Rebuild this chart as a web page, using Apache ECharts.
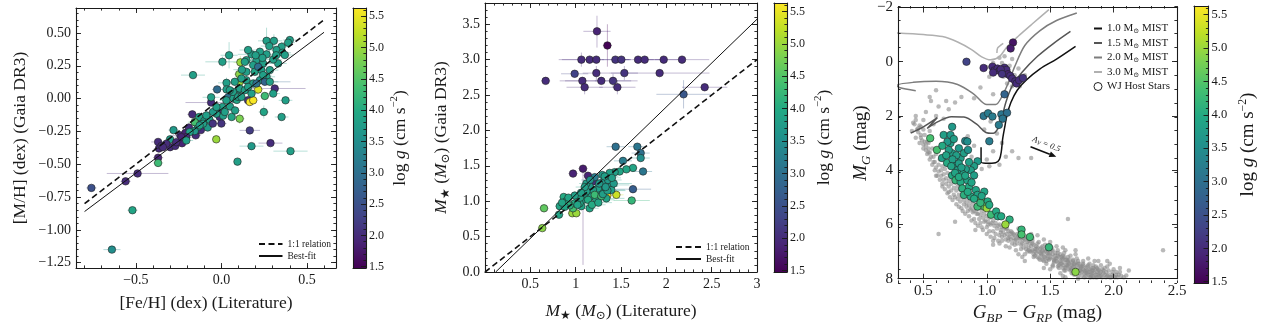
<!DOCTYPE html>
<html>
<head>
<meta charset="utf-8">
<script src="https://cdn.jsdelivr.net/npm/echarts@6/dist/echarts.min.js"></script>
<style>
  html, body { margin: 0; padding: 0; background: #ffffff; }
  #chart { width: 1268px; height: 330px; }
</style>
</head>
<body>
<div id="chart"></div>
<script>
// ---------------- data ----------------
// log g colour scale shared by the three colour bars
const loggRange = [1.48, 5.63];
const loggTicks = [1.5, 2.0, 2.5, 3.0, 3.5, 4.0, 4.5, 5.0, 5.5];

// Panel 1: [Fe/H] literature, [M/H] Gaia DR3, log g, err [Fe/H], err [M/H]
const metallicityStars = [
  [-0.76,-0.68,2.5,0.03,0.02],[-0.64,-1.15,3.5,0.05,0.01],[-0.52,-0.85,3.9,0.03,0.01],
  [-0.56,-0.63,2.0,0.03,0.02],[-0.49,-0.57,2.0,0.18,0.02],[-0.37,-0.33,2.0,0.04,0.02],
  [-0.365,-0.38,2.0,0.03,0.02],[-0.37,-0.45,1.9,0.03,0.02],[-0.37,-0.49,4.3,0.03,0.02],
  [-0.35,-0.36,2.0,0.03,0.02],[-0.30,-0.37,2.0,0.04,0.02],[-0.28,-0.24,3.7,0.03,0.02],
  [-0.30,-0.31,3.8,0.03,0.02],[-0.27,-0.36,2.0,0.03,0.02],[-0.24,-0.28,2.0,0.05,0.02],
  [-0.23,-0.34,1.9,0.03,0.02],[-0.21,-0.26,1.9,0.03,0.02],[-0.19,-0.22,2.0,0.03,0.02],
  [-0.17,-0.12,2.0,0.03,0.02],[-0.15,-0.28,2.0,0.03,0.02],[-0.15,-0.18,2.1,0.03,0.02],
  [-0.13,-0.14,3.9,0.03,0.02],[-0.12,-0.24,2.0,0.03,0.02],[-0.10,-0.17,3.8,0.04,0.02],
  [-0.07,-0.16,3.8,0.03,0.02],[-0.08,-0.22,3.7,0.03,0.02],[-0.05,-0.19,2.1,0.03,0.02],
  [-0.03,-0.31,5.0,0.02,0.02],[-0.06,-0.03,2.0,0.15,0.02],[-0.06,0.01,3.8,0.05,0.02],
  [-0.025,0.07,2.9,0.03,0.02],[-0.02,-0.09,2.1,0.05,0.02],[-0.01,-0.14,2.0,0.03,0.02],
  [0.0,-0.19,2.1,0.03,0.02],[0.01,-0.13,3.8,0.03,0.02],[0.03,0.12,3.8,0.05,0.04],
  [0.03,0.07,3.8,0.03,0.02],[0.04,0.01,3.0,0.03,0.02],[0.05,-0.06,3.8,0.03,0.02],
  [0.06,-0.14,3.9,0.03,0.02],[0.07,0.0,3.8,0.03,0.02],[0.08,-0.09,3.8,0.03,0.02],
  [0.09,-0.01,3.9,0.03,0.02],[0.10,0.07,3.8,0.03,0.02],[0.107,0.128,5.0,0.03,0.02],
  [0.104,0.186,4.9,0.03,0.02],[0.111,0.276,5.0,0.04,0.05],[0.107,-0.153,4.8,0.03,0.04],
  [0.156,-0.013,2.1,0.03,0.02],[0.166,-0.026,5.6,0.03,0.02],[0.186,-0.013,5.6,0.03,0.02],
  [0.215,0.069,5.4,0.03,0.02],[0.166,-0.242,2.2,0.06,0.02],[0.176,-0.362,3.7,0.07,0.02],
  [0.094,-0.48,3.8,0.02,0.02],[0.287,-0.339,2.0,0.07,0.02],[0.404,-0.40,3.8,0.10,0.02],
  [0.352,-0.14,3.8,0.04,0.02],[0.375,-0.013,3.8,0.04,0.02],[0.312,0.077,2.0,0.18,0.02],
  [0.303,0.038,3.8,0.04,0.02],[0.254,0.02,4.3,0.03,0.02],[0.248,-0.102,3.9,0.03,0.05],
  [0.045,0.33,3.8,0.05,0.10],[-0.166,0.179,3.8,0.07,0.02],[0.006,0.28,3.8,0.10,0.04],
  [0.264,0.44,3.8,0.05,0.10],[0.307,0.44,3.8,0.05,0.05],[0.40,0.446,3.8,0.04,0.03],
  [0.39,0.426,3.8,0.04,0.03],[0.352,0.395,3.8,0.05,0.03],[0.322,0.37,3.8,0.05,0.03],
  [0.357,0.349,3.8,0.05,0.03],[0.371,0.332,3.8,0.05,0.03],[0.332,0.268,3.8,0.05,0.03],
  [0.303,0.298,3.8,0.05,0.03],[0.264,0.337,3.8,0.05,0.03],[0.225,0.357,3.8,0.05,0.03],
  [0.176,0.337,3.8,0.08,0.05],[0.146,0.293,3.9,0.05,0.03],[0.205,0.293,3.8,0.05,0.03],
  [0.244,0.268,3.8,0.05,0.03],[0.186,0.255,3.8,0.05,0.03],[0.146,0.204,3.8,0.05,0.03],
  [0.195,0.204,3.9,0.05,0.03],[0.234,0.217,3.8,0.05,0.03],[0.283,0.217,3.8,0.05,0.03],
  [0.264,0.166,3.8,0.05,0.03],[0.225,0.14,3.7,0.05,0.03],[0.186,0.115,3.8,0.05,0.03],
  [0.146,0.14,3.8,0.05,0.03],[0.107,0.077,3.8,0.04,0.03],[0.137,0.064,3.8,0.04,0.03],
  [0.176,0.038,3.8,0.04,0.03],[0.205,0.115,3.0,0.10,0.03],[0.254,0.128,2.8,0.15,0.03],
  [0.244,0.179,3.8,0.05,0.03],[0.215,0.242,3.0,0.05,0.03],[0.283,0.128,3.8,0.05,0.03],
  [0.156,0.37,3.8,0.05,0.03],[0.137,0.28,3.8,0.05,0.03],[0.068,0.051,3.8,0.04,0.03],
  [0.098,0.013,3.8,0.04,0.03],[0.029,-0.013,3.8,0.04,0.03],[0.006,-0.064,3.8,0.04,0.03],
  [-0.029,-0.115,3.8,0.04,0.03],[-0.049,-0.102,3.7,0.04,0.03],[-0.088,-0.128,3.8,0.04,0.03],
  [-0.107,-0.191,3.8,0.04,0.03],[-0.137,-0.217,3.8,0.04,0.03],[-0.156,-0.247,3.7,0.04,0.03],
  [-0.186,-0.255,3.8,0.04,0.03],[-0.205,-0.293,2.0,0.04,0.03],[-0.234,-0.293,1.9,0.04,0.03],
  [-0.264,-0.332,2.0,0.04,0.03],[-0.322,-0.344,2.0,0.04,0.03],[-0.342,-0.37,2.0,0.04,0.03],
  [-0.205,-0.319,3.8,0.04,0.03],[-0.156,-0.179,4.4,0.04,0.03],[-0.127,-0.204,3.8,0.04,0.03],
  [-0.029,-0.064,3.8,0.04,0.03],[0.02,-0.102,3.8,0.04,0.03],[0.049,0.064,3.8,0.04,0.03],
  [0.117,0.013,3.8,0.04,0.03],[0.156,0.089,3.8,0.04,0.03],[0.117,0.153,3.8,0.04,0.03],
  [0.078,0.128,3.8,0.04,0.03],[0.32,0.33,3.8,0.05,0.03],[0.28,0.40,3.8,0.05,0.05],
  [0.24,0.31,3.8,0.05,0.03],[0.20,0.33,3.8,0.05,0.03],[0.12,0.22,3.8,0.05,0.03]
];
const metallicityOneToOne = [-0.8, 0.6];
const metallicityFit = { slope: 0.975, intercept: -0.08, from: -0.8, to: 0.6 };

// Panel 2: mass literature, mass Gaia DR3, log g, err lit, err Gaia (low), err Gaia (high)
const massStars = [
  [1.235,3.40,1.9,0.15,0.23,0.22],[1.35,3.20,1.5,0.05,0.30,0.30],[1.063,3.00,2.0,0.25,0.10,0.10],
  [1.154,3.00,2.0,0.10,0.05,0.05],[1.228,3.00,2.0,0.38,0.05,0.05],[1.438,3.00,2.1,0.15,0.05,0.05],
  [1.504,3.00,2.1,0.10,0.05,0.05],[1.688,3.00,2.0,0.30,0.05,0.05],[1.761,3.00,2.0,0.10,0.05,0.05],
  [1.971,3.00,2.0,0.20,0.05,0.05],[2.173,3.00,2.0,0.30,0.05,0.05],[0.989,2.80,2.3,0.15,0.05,0.05],
  [1.074,2.70,2.0,0.25,0.05,0.05],[1.228,2.81,2.0,0.15,0.10,0.10],[1.283,2.70,2.0,0.40,0.05,0.05],
  [1.412,2.70,2.1,0.20,0.10,0.10],[1.537,2.81,2.1,0.15,0.10,0.10],[1.926,2.81,2.0,0.55,0.05,0.05],
  [1.099,2.61,2.0,0.20,0.10,0.10],[1.460,2.61,2.0,0.20,0.10,0.10],[0.669,2.70,2.0,0.05,0.03,0.03],
  [2.423,2.61,2.0,0.25,0.05,0.05],[2.190,2.51,2.6,0.30,0.20,0.20],
  [0.632,0.62,4.9,0.05,0.03,0.03],[0.651,0.90,4.6,0.05,0.05,0.05],[0.824,0.93,3.9,0.05,0.05,0.05],
  [0.816,0.81,3.9,0.05,0.05,0.05],[0.868,1.06,4.0,0.05,0.05,0.05],[0.897,1.00,4.0,0.05,0.05,0.05],
  [0.971,1.39,1.9,0.05,0.05,0.05],[1.081,1.46,1.8,0.05,1.36,0.05],[1.136,1.36,1.9,0.05,0.05,0.05],
  [1.191,1.28,2.0,0.05,0.05,0.05],[1.210,1.34,3.2,0.05,0.05,0.05],[1.441,1.77,3.0,0.10,0.05,0.05],
  [1.680,1.77,3.1,0.10,0.05,0.05],[1.717,1.68,3.0,0.10,0.05,0.05],[1.717,1.61,3.5,0.10,0.05,0.05],
  [1.743,1.42,3.1,0.10,0.05,0.05],[1.632,1.17,2.7,0.20,0.05,0.05],[1.618,1.01,4.2,0.20,0.05,0.05],
  [1.522,1.57,3.2,0.10,0.05,0.05],[1.632,1.47,3.9,0.05,0.05,0.05],[1.559,1.45,3.9,0.05,0.05,0.05],
  [1.485,1.42,3.9,0.05,0.05,0.05],[1.430,1.41,3.8,0.05,0.05,0.05],[1.375,1.40,3.8,0.05,0.05,0.05],
  [1.294,1.37,3.7,0.05,0.05,0.05],[1.449,1.09,5.3,0.08,0.03,0.03],[1.349,1.08,5.6,0.08,0.03,0.03],
  [0.963,0.83,5.0,0.05,0.03,0.03],[1.007,0.83,5.0,0.05,0.03,0.03],[0.971,0.90,4.4,0.05,0.03,0.03],
  [1.063,0.93,3.9,0.15,0.05,0.05],[1.154,0.90,3.9,0.10,0.05,0.05],[1.081,1.02,3.8,0.10,0.05,0.05],
  [1.173,1.07,3.8,0.15,0.05,0.05],[1.228,1.02,3.9,0.20,0.05,0.05],[1.265,1.14,3.8,0.20,0.05,0.05],
  [1.320,1.21,3.8,0.15,0.05,0.05],[1.393,1.23,3.7,0.20,0.05,0.05],[1.338,1.04,3.9,0.20,0.05,0.05],
  [1.246,1.18,3.8,0.10,0.05,0.05],[1.191,1.16,3.8,0.10,0.05,0.05],[1.136,1.02,4.0,0.10,0.05,0.05],
  [1.044,0.97,3.9,0.10,0.05,0.05],[0.989,0.97,4.0,0.10,0.05,0.05],[0.934,0.94,4.1,0.08,0.05,0.05],
  [1.210,1.09,4.3,0.10,0.05,0.05],[1.283,1.07,4.3,0.10,0.05,0.05],[1.154,1.21,3.7,0.10,0.05,0.05],
  [1.099,1.11,3.8,0.10,0.05,0.05],[1.118,1.25,3.8,0.08,0.05,0.05],[1.118,1.14,3.8,0.08,0.05,0.05],
  [1.294,1.26,3.7,0.15,0.05,0.05],[1.357,1.30,3.7,0.15,0.05,0.05],[1.320,1.35,3.8,0.15,0.05,0.05],
  [1.393,1.16,3.8,0.15,0.05,0.05],[1.050,1.05,3.9,0.05,0.05,0.05],[0.990,1.08,3.8,0.05,0.05,0.05],
  [1.020,0.95,3.9,0.05,0.05,0.05],[1.180,0.95,4.0,0.15,0.05,0.05],[1.250,0.98,3.9,0.15,0.05,0.05],
  [1.300,1.10,3.8,0.15,0.05,0.05],[1.350,1.15,3.8,0.20,0.05,0.05],[1.420,1.25,3.7,0.20,0.05,0.05],
  [1.400,1.33,3.8,0.10,0.05,0.05],[1.330,1.20,3.7,0.10,0.05,0.05],[1.260,1.25,3.7,0.10,0.05,0.05],
  [1.160,1.30,3.6,0.10,0.05,0.05],[1.100,1.20,3.8,0.10,0.05,0.05],[1.060,1.12,3.8,0.10,0.05,0.05],
  [0.880,0.92,3.9,0.05,0.05,0.05],[0.920,1.05,3.9,0.05,0.05,0.05],[0.850,0.98,3.9,0.05,0.05,0.05]
];
const massOneToOne = [0, 3];
const massFit = { slope: 1.239, intercept: -0.146, from: 0.118, to: 3.0 };

// Panel 3: Gaia CMD background field stars [BP-RP, M_G]
const fieldStars = [
  [0.44,2.0],[0.47,2.35],[0.50,2.15],[0.52,1.85],[0.55,2.55],[0.58,2.3],[0.62,1.65],[0.60,1.05],
  [0.66,2.1],[0.70,1.75],[0.48,2.7],[0.45,2.5],[0.53,2.95],[0.42,2.25],[0.56,1.45],[0.75,1.5],
  [0.90,1.35],[0.95,0.95],[1.02,0.55],[1.08,0.25],[1.12,0.05],[1.15,0.35],[1.18,0.15],[1.20,-0.1],
  [1.22,0.5],[1.16,0.8],[1.05,1.2],[1.13,0.55],[1.10,-0.15],[1.25,0.25],[0.98,2.5],[1.03,2.2],
  [1.08,2.65],[1.12,3.0],[1.05,3.3],[1.00,3.6],[1.15,3.5],[1.20,3.3],[1.25,3.55],[1.35,3.55],
  [0.96,3.95],[1.02,3.85],[0.85,2.75],[0.90,3.1],[0.88,3.5],[1.10,3.8],
  [0.55,1.3],[0.60,2.0],[0.68,1.45],[0.80,1.3],[1.00,0.2],[1.05,0.05],[1.14,-0.2],[1.20,0.9],
  [1.26,0.9],[1.30,0.5],
  [0.46,2.6],[0.49,2.9],[0.51,2.7],[0.52,3.1],[0.54,3.0],[0.55,3.35],[0.57,3.2],[0.58,3.5],
  [0.59,3.7],[0.60,3.4],[0.62,3.8],[0.63,3.6],[0.64,4.0],[0.65,3.85],[0.66,4.15],[0.67,3.95],
  [0.68,4.3],[0.69,4.1],[0.70,4.4],[0.71,4.2],[0.72,4.5],[0.73,4.35],[0.74,4.65],[0.75,4.45],
  [0.76,4.75],[0.77,4.6],[0.78,4.9],[0.79,4.7],[0.80,5.0],[0.81,4.85],[0.82,5.1],[0.83,4.95],
  [0.84,5.2],[0.85,5.05],[0.86,5.3],[0.87,5.15],[0.88,5.4],[0.89,5.25],[0.90,5.5],[0.91,5.35],
  [0.92,5.45],[0.93,5.6],[0.94,5.4],[0.95,5.65],[0.96,5.5],[0.97,5.75],[0.98,5.6],[0.99,5.85],
  [1.00,5.7],[1.01,5.9],[1.02,5.75],[1.03,6.0],[1.05,5.85],[1.06,6.05],[1.07,5.95],[1.08,6.15],
  [1.10,6.0],[1.11,6.2],[1.12,6.1],[1.13,6.3],[1.15,6.15],[1.16,6.35],[1.17,6.25],[1.18,6.45],
  [1.20,6.3],[1.21,6.5],[1.22,6.4],[1.23,6.55],[1.25,6.45],[1.26,6.6],[1.27,6.5],[1.28,6.7],
  [1.30,6.55],[1.31,6.75],[1.32,6.65],[1.33,6.85],[1.34,6.7],[1.35,6.8],[1.36,6.95],[1.37,6.75],
  [1.38,6.9],[1.39,7.05],[1.40,6.85],[1.41,7.0],[1.42,6.9],[1.43,7.1],[1.44,6.95],[1.45,7.05],
  [1.46,7.2],[1.47,7.0],[1.48,7.15],[1.49,7.3],[1.50,7.05],[1.51,7.2],[1.52,7.1],[1.53,7.3],
  [1.54,7.15],[1.55,7.25],[1.56,7.4],[1.57,7.2],[1.58,7.35],[1.59,7.45],[1.60,7.25],[1.61,7.4],
  [1.62,7.3],[1.63,7.5],[1.64,7.35],[1.65,7.45],[1.66,7.6],[1.67,7.4],[1.68,7.55],[1.69,7.45],
  [1.70,7.65],[1.71,7.5],[1.72,7.6],[1.73,7.45],[1.74,7.7],[1.75,7.55],[1.76,7.65],[1.77,7.8],
  [1.78,7.6],[1.79,7.7],[1.80,7.85],[1.81,7.65],[1.82,7.75],[1.83,7.9],[1.84,7.7],[1.85,7.8],
  [1.86,7.95],[1.87,7.75],[1.88,7.85],[1.90,7.9],[1.92,7.8],[1.94,7.95],[1.96,7.85],[1.98,7.95],
  [2.00,7.9],[2.03,7.95],[2.06,7.9],
  [1.32,6.5],[1.36,6.6],[1.40,6.7],[1.44,6.8],[1.48,6.95],[1.52,6.95],[1.56,7.05],[1.60,7.15],
  [1.64,7.2],[1.68,7.3],[1.72,7.35],[1.76,7.45],[1.80,7.5],[1.84,7.6],[1.88,7.65],[1.92,7.7],
  [1.38,7.15],[1.45,7.35],[1.52,7.5],[1.60,7.6],[1.68,7.8],[1.75,7.9],[1.82,7.95],
  [1.97,7.45],[2.05,7.6],[1.90,7.5],[1.62,6.95],[1.55,6.8],[1.64,5.8],[2.39,6.95],[0.91,6.2],
  [1.05,6.75],[1.23,6.95],[1.60,7.9],[1.28,7.2],[1.12,6.6],[0.96,6.1],[1.70,7.1],[1.85,7.35],
  [0.80,5.4],[0.90,5.8],[1.00,6.1],[1.10,6.4],[1.20,6.7],[0.70,4.8],[0.60,4.2],[0.65,4.5],
  [0.75,5.0],[0.85,5.5],[0.95,5.95],[1.05,6.25],[1.15,6.55],
  [1.11,6.3],[1.14,6.4],[1.17,6.5],[1.19,6.55],[1.22,6.6],[1.24,6.7],[1.27,6.75],[1.29,6.85],
  [1.13,6.05],[1.16,6.15],[1.19,6.25],[1.21,6.35],[1.24,6.35],[1.26,6.45],[1.29,6.5],
  [1.31,6.9],[1.33,6.6],[1.34,7.0],[1.36,6.7],[1.37,7.1],[1.39,6.8],[1.40,7.2],[1.42,7.05],
  [1.43,6.85],[1.45,7.2],[1.46,6.9],[1.47,7.35],[1.48,7.05],[1.50,7.25],[1.51,6.95],[1.53,7.4],
  [1.54,7.05],[1.35,7.0],[1.41,7.25],[1.44,7.3],
  [1.55,7.35],[1.56,7.15],[1.57,7.5],[1.58,7.1],[1.59,7.3],[1.60,7.5],[1.61,7.2],[1.62,7.6],
  [1.63,7.3],[1.64,7.5],[1.65,7.3],[1.66,7.7],[1.67,7.5],[1.68,7.35],[1.69,7.65],[1.70,7.4],
  [1.56,7.55],[1.61,7.7],[1.65,7.65],[1.69,7.85],
  [1.71,7.7],[1.72,7.45],[1.73,7.8],[1.74,7.55],[1.75,7.75],[1.76,7.5],[1.77,7.7],[1.78,7.9],
  [1.79,7.55],[1.80,7.75],[1.81,7.95],[1.82,7.6],[1.83,7.8],[1.84,7.95],[1.85,7.65],[1.86,7.85],
  [1.87,7.95],[1.88,7.7],[1.89,7.9],[1.90,7.75],[1.91,7.95],[1.93,7.85],[1.95,7.9],[1.97,7.95],
  [1.99,7.85],[2.01,7.95],[2.04,7.85],[2.08,7.95],[2.10,7.88],[1.93,7.6],[1.96,7.7],[2.02,7.75],
  [0.50,3.2],[0.53,3.4],[0.55,3.6],[0.57,3.8],[0.59,4.0],[0.61,4.2],[0.63,4.35],[0.65,4.6],
  [0.67,4.7],[0.69,4.85],[0.71,5.0],[0.73,5.1],[0.76,5.25],[0.78,5.35],[0.81,5.5],[0.83,5.6],
  [0.86,5.7],[0.88,5.85],[0.91,5.95],[0.93,6.05],[0.97,6.2],[1.00,6.35],[1.03,6.45],[1.06,6.5],
  [1.09,6.6],[0.48,2.4],[0.50,2.5],[0.47,3.0],[0.44,2.8],[0.51,2.95],[0.56,2.85],[0.54,3.2],
  [0.62,6.35],[0.75,5.9],[1.25,7.1],[1.45,7.6],[1.30,7.35],[1.95,7.35],[2.12,7.7],[1.15,6.8],
  [1.40,6.4],[1.62,7.95],
  [1.02,6.25],[1.04,5.95],[1.07,6.35],[1.09,6.05],[1.12,6.45],[1.14,6.15],[1.17,6.6],[1.19,6.35],
  [1.22,6.75],[1.24,6.5],[1.27,6.9],[1.29,6.6],[1.32,7.0],[1.34,6.55],[1.37,7.2],[1.39,6.9],
  [1.42,7.3],[1.44,7.0],[1.47,7.45],[1.49,7.1],[1.52,7.55],[1.54,7.25],[1.57,7.6],[1.59,7.2],
  [1.62,7.7],[1.64,7.4],[1.67,7.8],[1.69,7.5],[1.72,7.9],[1.74,7.6],[1.77,7.95],[1.79,7.8],
  [1.82,7.85],[1.84,7.5],[1.87,7.6],[1.89,7.8],[1.91,7.65],[1.94,7.75],[1.99,7.75],[2.02,7.85],
  [1.26,6.3],[1.31,6.45],[1.36,6.5],[1.41,6.65],[1.46,6.75],[1.51,6.85],[1.56,6.95],[1.61,7.05],
  [1.66,7.15],[1.71,7.25],[1.76,7.35],[1.81,7.45],[1.86,7.55],
  [1.33,6.95],[1.38,7.0],[1.43,7.15],[1.48,7.25],[1.53,7.35],[1.58,7.45],[1.63,7.55],[1.67,7.65],
  [1.73,7.7],[1.78,7.75],[1.83,7.7],
  [0.98,5.9],[1.01,6.0],[0.94,5.8],[0.92,5.6],[0.89,5.55],[0.87,5.45],[0.84,5.35],[0.82,5.25],
  [0.79,5.15],[0.77,5.05],[0.74,4.9],[0.72,4.75],[0.70,4.6],[0.68,4.5],[0.66,4.35],[0.64,4.2],
  [0.62,4.05],[0.60,3.9],[0.58,3.7],[0.56,3.5],[0.54,3.35],[0.52,3.25],[0.50,3.05],[0.48,2.8],
  [0.46,2.45],[0.43,2.3],[0.41,2.55],[0.44,2.15],
  [1.05,6.6],[1.10,6.7],[1.18,6.85],[1.30,7.1],[1.50,7.65],[1.58,7.8],[1.72,8.0],[1.95,7.55],
  [2.00,7.65],[2.05,7.75],[1.88,7.35],[1.80,7.25],[1.70,6.95],[1.45,6.55],[1.25,6.15],[1.15,5.95],
  [1.35,6.35],[1.50,6.65],[1.60,6.85]
];

// Panel 3: WJ host stars [BP-RP, M_G, log g]
const hostStars = [
  [1.207,-0.71,1.7],[1.188,-0.49,1.8],[0.840,0.00,2.3],[0.975,0.23,2.0],[1.045,0.18,2.0],
  [1.060,0.32,2.0],[1.085,0.25,2.0],[1.100,0.33,2.0],[1.127,0.42,2.0],[1.140,0.22,2.0],
  [1.155,0.30,2.0],[1.167,0.46,1.9],[1.185,0.52,2.0],[1.200,0.62,2.0],[1.225,0.72,2.0],
  [1.235,0.80,2.0],[1.255,0.68,2.0],[1.285,0.60,2.1],[1.050,0.40,2.0],[1.110,0.28,2.0],
  [1.120,0.45,2.1],
  [1.140,1.20,2.8],[0.975,2.00,3.1],[1.010,1.90,3.2],[1.045,2.02,3.2],[1.115,1.94,3.1],
  [1.160,1.88,3.0],[1.125,2.10,3.1],[1.095,2.33,3.2],[1.020,2.93,3.2],[0.830,2.92,3.4],
  [0.554,2.82,4.4],[0.607,3.25,4.4],[0.647,3.55,3.8],[0.660,2.70,3.8],[0.714,2.70,3.7],
  [0.727,2.40,3.7],[0.714,3.00,3.8],[0.727,3.37,3.8],[0.687,3.73,4.0],[0.754,3.79,3.8],
  [0.794,3.55,3.8],[0.780,3.19,3.7],[0.820,3.37,3.8],[0.847,2.94,3.5],[0.852,3.25,3.6],
  [0.927,3.67,3.7],[0.900,3.85,3.8],[0.874,4.00,3.8],[0.834,3.96,3.8],[0.807,4.13,3.9],
  [0.767,4.00,3.8],[0.727,4.19,4.0],[0.754,4.37,4.2],[0.794,4.43,4.0],[0.847,4.37,3.9],
  [0.900,4.19,3.8],[0.807,4.67,4.1],[0.860,4.61,4.0],[0.914,4.73,3.9],[0.820,4.91,4.1],
  [0.874,4.97,4.0],[0.927,4.91,3.9],[0.980,4.79,3.9],[0.954,5.09,5.0],[1.007,5.15,4.0],
  [0.980,5.34,4.5],[1.000,5.40,5.0],[1.020,5.28,4.0],[0.927,5.34,4.3],[1.034,5.64,4.3],
  [1.074,5.52,4.0],[1.087,5.70,4.0],[1.114,5.70,4.0],[1.180,5.82,4.1],[1.147,6.00,5.0],
  [1.274,6.19,4.2],[1.274,6.37,4.4],[1.340,6.46,4.3],[1.490,6.84,4.2],[1.700,7.75,4.9],
  [0.69,2.95,3.7],[0.74,2.85,3.8],[0.70,3.25,3.8],[0.76,3.45,3.8],[0.68,3.45,3.9],
  [0.65,3.10,4.0],[0.73,3.60,3.8],[0.78,3.75,3.8],[0.72,3.85,3.9],[0.80,3.90,3.8],
  [0.86,3.70,3.8],[0.75,4.10,3.9],[0.78,4.25,4.0],[0.83,4.20,3.9],[0.88,4.45,3.9],
  [0.85,4.80,4.0],[0.90,5.05,4.0],[0.95,5.20,4.2],[0.96,4.95,3.9]
];

// MIST evolutionary tracks [BP-RP, M_G]
const mistMasses = ['1.0', '1.5', '2.0', '3.0'];
const mistTrack10 = [[0.955,3.15],[0.955,3.70],[0.99,3.74],[1.07,3.72],[1.10,3.60],[1.115,3.30],
  [1.125,2.85],[1.14,2.45],[1.16,1.96],[1.19,1.50],[1.24,1.05],[1.31,0.68],[1.42,0.26],[1.55,-0.10],[1.70,-0.57]];
const mistTrack15 = [[0.40,2.63],[0.50,2.40],[0.61,2.06],[0.53,2.46],[0.62,2.20],[0.72,2.03],[0.82,2.04],
  [0.92,2.30],[0.99,2.60],[1.05,2.64],[1.09,2.45],[1.12,2.05],[1.15,1.50],[1.20,0.90],[1.28,0.38],
  [1.40,-0.20],[1.53,-0.69],[1.66,-1.12]];
const mistTrack20 = [[0.44,1.07],[0.31,0.95],[0.29,0.87],[0.42,0.76],[0.60,0.72],[0.77,0.84],[0.90,1.20],
  [1.00,1.58],[1.07,1.58],[1.12,1.28],[1.17,0.78],[1.22,0.18],[1.30,-0.60],[1.42,-1.15],[1.55,-1.52],[1.71,-1.80]];
const mistTrack30 = [[0.28,-1.06],[0.50,-1.00],[0.65,-0.93],[0.77,-0.73],[0.88,-0.45],[0.96,-0.18],
  [1.03,-0.07],[1.10,-0.19],[1.16,-0.55],[1.25,-0.95],[1.36,-1.40],[1.49,-1.92]];
const mistTrack30Loop = [[1.08,-0.32],[1.085,-0.50],[1.13,-0.68]];

// extinction vector A_V = 0.5
const reddeningVector = [[1.345, 3.13, 1.548, 3.506]];
const reddeningText = '0.5';

// tick values
const p1XTicks = [-0.5, 0.0, 0.5];
const p1YTicks = [-1.25, -1.0, -0.75, -0.5, -0.25, 0.0, 0.25, 0.5];
const p2XTicks = [0.5, 1, 1.5, 2, 2.5, 3];
const p2YTicks = [0.0, 0.5, 1.0, 1.5, 2.0, 2.5, 3.0, 3.5];
const p3XTicks = [0.5, 1.0, 1.5, 2.0, 2.5];
const p3YTicks = [-2, 0, 2, 4, 6, 8];

// ---------------- helpers ----------------
const FONT = '"Liberation Serif", "DejaVu Serif", serif';
const INK = '#1a1a1a';
const VIRIDIS = ['#440154','#482475','#414487','#355f8d','#2a788e','#21918c',
                 '#22a884','#44bf70','#7ad151','#bddf26','#fde725'];

function hexRgb(h) { return [1, 3, 5].map(i => parseInt(h.slice(i, i + 2), 16)); }
function viridis(v) {
  let t = (v - loggRange[0]) / (loggRange[1] - loggRange[0]);
  t = Math.max(0, Math.min(1, t)) * (VIRIDIS.length - 1);
  const i = Math.min(Math.floor(t), VIRIDIS.length - 2), f = t - i;
  const a = hexRgb(VIRIDIS[i]), b = hexRgb(VIRIDIS[i + 1]);
  return 'rgb(' + a.map((c, k) => Math.round(c + (b[k] - c) * f)).join(',') + ')';
}
function steps(min, max, step) {
  const out = [];
  for (let k = Math.ceil(min / step - 1e-9); k * step <= max + 1e-9; k++) out.push(+(k * step).toFixed(6));
  return out;
}
const minus = v => (v < 0 ? '\u2212' : '') + Math.abs(v);
const fixed = d => v => (v < 0 ? '\u2212' : '') + Math.abs(v).toFixed(d);

const grids = [], xAxis = [], yAxis = [], series = [];

function gridRect(r) { return { left: r[0], top: r[1], width: r[2], height: r[3], containLabel: false }; }

function axisCfg(dim, gridIndex, position, s, major, labelled) {
  return {
    type: 'value', gridIndex, position, min: s.min, max: s.max, inverse: !!s.inverse,
    axisLine: { show: major, onZero: false, lineStyle: { color: INK, width: 1.1 } },
    axisTick: { show: s.major.length > 0, inside: true, length: major ? 5 : 2.6,
                customValues: major ? s.major : s.minor, lineStyle: { color: INK, width: 0.9 } },
    axisLabel: { show: labelled, customValues: s.major, formatter: s.fmt, fontFamily: FONT,
                 fontSize: s.labelSize, color: INK, margin: s.labelMargin || 5 },
    splitLine: { show: false }, minorTick: { show: false },
    name: labelled ? s.name : '', nameLocation: 'middle', nameGap: s.nameGap,
    nameRotate: dim === 'y' ? 90 : 0,
    nameTextStyle: { fontFamily: FONT, fontSize: s.nameSize, color: INK, rich: s.rich || {} },
    silent: true, z: 10
  };
}

function addPlotFrame(rect, xs, ys) {
  const g = grids.length;
  grids.push(gridRect(rect), gridRect(rect));
  const xi = xAxis.length, yi = yAxis.length;
  xAxis.push(axisCfg('x', g, 'bottom', xs, true, true), axisCfg('x', g, 'top', xs, true, false),
             axisCfg('x', g + 1, 'bottom', xs, false, false), axisCfg('x', g + 1, 'top', xs, false, false));
  yAxis.push(axisCfg('y', g, 'left', ys, true, true), axisCfg('y', g, 'right', ys, true, false),
             axisCfg('y', g + 1, 'left', ys, false, false), axisCfg('y', g + 1, 'right', ys, false, false));
  return { xi, yi };
}

function richTitle(size) {
  return {
    n: { fontFamily: FONT, fontSize: size, color: INK, lineHeight: size * 1.25 },
    i: { fontFamily: FONT, fontSize: size, fontStyle: 'italic', color: INK, lineHeight: size * 1.25 },
    sub: { fontFamily: FONT, fontSize: size * 0.68, color: INK, verticalAlign: 'bottom', lineHeight: size * 1.25 },
    isub: { fontFamily: FONT, fontSize: size * 0.68, fontStyle: 'italic', color: INK, verticalAlign: 'bottom', lineHeight: size * 1.25 },
    sup: { fontFamily: FONT, fontSize: size * 0.62, color: INK, verticalAlign: 'top', lineHeight: size * 1.25 }
  };
}
const loggTitle = '{n|log }{i|g}{n| (cm s}{sup|\u22122}{n|)}';

function addColorbar(rect, labelSize, nameSize, nameGap) {
  const g = grids.length;
  grids.push(gridRect(rect), gridRect(rect));
  const xi = xAxis.length, yi = yAxis.length;
  const box = { min: 0, max: 1, major: [], minor: [] };
  const cs = { min: loggRange[0], max: loggRange[1], major: loggTicks, minor: steps(loggRange[0], loggRange[1], 0.1),
               fmt: fixed(1), labelSize, name: loggTitle, nameSize, nameGap, rich: richTitle(nameSize), labelMargin: 3 };
  const plain = Object.assign({}, cs, { major: [] });
  xAxis.push(axisCfg('x', g, 'bottom', box, true, false), axisCfg('x', g, 'top', box, true, false),
             Object.assign(axisCfg('x', g + 1, 'bottom', box, false, false), { show: false }));
  yAxis.push(axisCfg('y', g, 'left', plain, true, false), axisCfg('y', g, 'right', cs, true, true),
             axisCfg('y', g + 1, 'right', cs, false, false));
  series.push({
    type: 'custom', xAxisIndex: xi, yAxisIndex: yi, silent: true, z: 1,
    data: [[0, loggRange[0], 1, loggRange[1]]],
    renderItem(params, api) {
      const a = api.coord([api.value(0), api.value(3)]), b = api.coord([api.value(2), api.value(1)]);
      return { type: 'rect', shape: { x: a[0], y: a[1], width: b[0] - a[0], height: b[1] - a[1] },
        style: { fill: new echarts.graphic.LinearGradient(0, 1, 0, 0,
          VIRIDIS.map((c, k) => ({ offset: k / (VIRIDIS.length - 1), color: c }))) } };
    }
  });
}

function errorBarSeries(rows, f, asym) {
  return {
    type: 'custom', xAxisIndex: f.xi, yAxisIndex: f.yi, clip: true, silent: true, z: 1, data: rows,
    renderItem(params, api) {
      const x = api.value(0), y = api.value(1), c = viridis(api.value(2));
      const ex = api.value(3), lo = api.value(4), hi = asym ? api.value(5) : lo;
      const style = { stroke: c, lineWidth: 1, opacity: 0.32 };
      const kids = [];
      if (ex > 0) {
        const a = api.coord([x - ex, y]), b = api.coord([x + ex, y]);
        kids.push({ type: 'line', shape: { x1: a[0], y1: a[1], x2: b[0], y2: b[1] }, style });
      }
      if (lo > 0 || hi > 0) {
        const a = api.coord([x, y - lo]), b = api.coord([x, y + hi]);
        kids.push({ type: 'line', shape: { x1: a[0], y1: a[1], x2: b[0], y2: b[1] }, style });
      }
      return { type: 'group', children: kids };
    }
  };
}

function starSeries(name, rows, f, size) {
  return {
    type: 'scatter', name, xAxisIndex: f.xi, yAxisIndex: f.yi, clip: true, silent: true, z: 3,
    data: rows.map(r => [r[0], r[1], r[2]]), symbolSize: size,
    itemStyle: { color: p => viridis(p.value[2]), borderColor: '#222', borderWidth: 0.6, opacity: 1 }
  };
}

function lineSeries(name, pts, f, style, z, smooth) {
  return { type: 'line', name, xAxisIndex: f.xi, yAxisIndex: f.yi, data: pts, symbol: 'none', showSymbol: false,
           lineStyle: style, clip: true, silent: true, z: z, smooth: smooth || false };
}
const fitPoints = fit => [[fit.from, fit.slope * fit.from + fit.intercept], [fit.to, fit.slope * fit.to + fit.intercept]];
const dashed = { color: '#111', width: 1.6, type: [6, 3.5] };
const solid = { color: '#111', width: 1.0, type: 'solid' };

// ---------------- panel 1: metallicity ----------------
const f1 = addPlotFrame([76, 8, 260, 260],
  { min: -0.85, max: 0.67, major: p1XTicks, minor: steps(-0.85, 0.67, 0.1), fmt: fixed(1), labelSize: 14,
    name: '[Fe/H] (dex) (Literature)', nameSize: 17.5, nameGap: 26 },
  { min: -1.29, max: 0.69, major: p1YTicks, minor: steps(-1.29, 0.69, 0.05), fmt: fixed(2), labelSize: 14,
    name: '[M/H] (dex) (Gaia DR3)', nameSize: 17.5, nameGap: 47 });
series.push(errorBarSeries(metallicityStars, f1, false));
series.push(starSeries('metallicity', metallicityStars, f1, 7.5));
series.push(lineSeries('1:1 relation', metallicityOneToOne.map(v => [v, v]), f1, dashed, 4));
series.push(lineSeries('Best-fit', fitPoints(metallicityFit), f1, solid, 4));
addColorbar([353, 8, 13, 260], 12, 17.5, 23);

// ---------------- panel 2: stellar mass ----------------
const massName = '{i|M}{sub|\u2605}{n| (}{i|M}{sub|\u2299}{n|) (%s)}';
const f2 = addPlotFrame([485, 3, 272, 269],
  { min: 0, max: 3, major: p2XTicks, minor: steps(0, 3, 0.1),
    fmt: v => (Number.isInteger(v) ? String(v) : v.toFixed(1)), labelSize: 14,
    name: massName.replace('%s', 'Literature'), nameSize: 17.5, nameGap: 28, rich: richTitle(17.5) },
  { min: 0, max: 3.8, major: p2YTicks, minor: steps(0, 3.8, 0.1), fmt: fixed(1), labelSize: 14,
    name: massName.replace('%s', 'Gaia DR3'), nameSize: 17.5, nameGap: 33, rich: richTitle(17.5) });
series.push(errorBarSeries(massStars, f2, true));
series.push(starSeries('mass', massStars, f2, 7.5));
series.push(lineSeries('1:1 relation', massOneToOne.map(v => [v, v]), f2, dashed, 4));
series.push(lineSeries('Best-fit', fitPoints(massFit), f2, solid, 4));
addColorbar([774, 3, 13, 269], 12, 17.5, 26);

// ---------------- panel 3: colour-magnitude diagram ----------------
const f3 = addPlotFrame([898, 6, 279, 277],
  { min: 0.3, max: 2.5, major: p3XTicks, minor: steps(0.3, 2.5, 0.1), fmt: fixed(1), labelSize: 15,
    name: '{i|G}{isub|BP}{n| \u2212 }{i|G}{isub|RP}{n| (mag)}', nameSize: 19, nameGap: 17, rich: richTitle(19) },
  { min: -2, max: 8, inverse: true, major: p3YTicks, minor: steps(-2, 8, 0.5), fmt: minus, labelSize: 15,
    name: '{i|M}{isub|G}{n| (mag)}', nameSize: 19, nameGap: 20, rich: richTitle(19) });
series.push({
  type: 'scatter', name: 'field', xAxisIndex: f3.xi, yAxisIndex: f3.yi, data: fieldStars, symbolSize: 4.5,
  itemStyle: { color: '#8a8a8a', opacity: 0.6 }, clip: true, silent: true, z: 1
});
const mistNames = mistMasses.map(m => m + ' M\u2299 MIST');
const mistStyles = [
  { color: '#111111', width: 1.5 }, { color: '#555555', width: 1.5 },
  { color: '#7d7d7d', width: 1.5 }, { color: '#b0b0b0', width: 1.5 }
];
[mistTrack10, mistTrack15, mistTrack20, mistTrack30].forEach((trk, k) => {
  series.push(lineSeries(mistNames[k], trk, f3, mistStyles[k], 2, 0.3));
});
series.push(lineSeries('3.0 loop', mistTrack30Loop, f3, mistStyles[3], 2, 0.3));

// reddening arrow with its label laid along the shaft
series.push({
  type: 'custom', xAxisIndex: f3.xi, yAxisIndex: f3.yi, silent: true, z: 4, data: reddeningVector,
  renderItem(params, api) {
    const p0 = api.coord([api.value(0), api.value(1)]), p1 = api.coord([api.value(2), api.value(3)]);
    const dx = p1[0] - p0[0], dy = p1[1] - p0[1], len = Math.hypot(dx, dy);
    const ux = dx / len, uy = dy / len, head = 7, half = 3;
    const bx = p1[0] - ux * head, by = p1[1] - uy * head;
    const mx = (p0[0] + p1[0]) / 2 + uy * 8, my = (p0[1] + p1[1]) / 2 - ux * 8;
    return { type: 'group', children: [
      { type: 'line', shape: { x1: p0[0], y1: p0[1], x2: bx, y2: by }, style: { stroke: '#111', lineWidth: 1.6 } },
      { type: 'polygon', shape: { points: [[p1[0], p1[1]], [bx - uy * half, by + ux * half], [bx + uy * half, by - ux * half]] },
        style: { fill: '#111' } },
      { type: 'text', x: mx, y: my, rotation: -Math.atan2(dy, dx),
        style: { text: '{i|A}{isub|V}{n| = ' + reddeningText + '}', align: 'center', verticalAlign: 'middle',
          rich: {
            i: { fontFamily: FONT, fontSize: 8.5, fontStyle: 'italic', fill: INK, lineHeight: 10 },
            isub: { fontFamily: FONT, fontSize: 6, fontStyle: 'italic', fill: INK, verticalAlign: 'bottom', lineHeight: 10 },
            n: { fontFamily: FONT, fontSize: 8.5, fontStyle: 'italic', fill: INK, lineHeight: 10 }
          } } }
    ] };
  }
});
series.push(starSeries('WJ Host Stars', hostStars, f3, 7.5));
addColorbar([1194, 6, 14.5, 277], 12.5, 19, 28);

// ---------------- legends ----------------
// line entries show only their stroke; the symbol part of the icon is hidden
const legendText = size => ({ fontFamily: FONT, fontSize: size, color: INK });
const lineOnly = { opacity: 0 };
const legends = [
  { left: 253, top: 234, itemWidth: 23.5, itemHeight: 10, itemGap: 2, orient: 'vertical', itemStyle: lineOnly,
    data: ['1:1 relation', 'Best-fit'], textStyle: legendText(9.5), selectedMode: false },
  { left: 670, top: 237, itemWidth: 25, itemHeight: 10, itemGap: 2, orient: 'vertical', itemStyle: lineOnly,
    data: ['1:1 relation', 'Best-fit'], textStyle: legendText(9.5), selectedMode: false },
  { left: 1088, top: 18, itemWidth: 8, itemHeight: 8, itemGap: 2.5, orient: 'vertical', selectedMode: false,
    itemStyle: lineOnly,
    data: mistNames.concat([{ name: 'WJ Host Stars', icon: 'circle',
      itemStyle: { color: '#ffffff', borderColor: '#222', borderWidth: 1, opacity: 1 } }]),
    formatter: name => name.indexOf('M\u2299') >= 0
      ? '{n|' + name.split(' ')[0] + ' M}{sub|\u2299}{n| MIST}' : '{n|' + name + '}',
    textStyle: Object.assign(legendText(11), { rich: {
      n: { fontFamily: FONT, fontSize: 11, color: INK, lineHeight: 13 },
      sub: { fontFamily: FONT, fontSize: 7, color: INK, verticalAlign: 'bottom', lineHeight: 13 } } }) }
];

const chart = echarts.init(document.getElementById('chart'), null, { renderer: 'canvas' });
chart.setOption({
  animation: false,
  backgroundColor: '#ffffff',
  textStyle: { fontFamily: FONT },
  grid: grids, xAxis, yAxis, legend: legends, series
});
</script>
</body>
</html>
